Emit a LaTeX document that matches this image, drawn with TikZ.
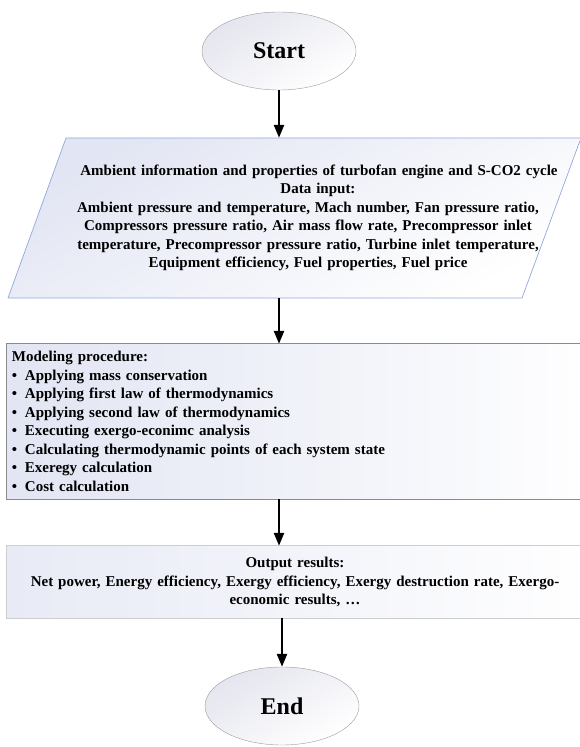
\documentclass[tikz,border=0pt]{standalone}
\usepackage{fontspec}
\setmainfont{Liberation Serif}
\usetikzlibrary{arrows.meta,shapes.geometric,backgrounds}
\definecolor{ovalfill}{HTML}{E4E5EE}
\definecolor{ovaledge}{HTML}{9C9C9C}
\definecolor{boxfill}{HTML}{E2E5F3}
\definecolor{inedge}{HTML}{8EA9DB}
\definecolor{modedge}{HTML}{8A8A8A}
\definecolor{outedge}{HTML}{CDCDCD}
\tikzset{
  oval/.style={ellipse, draw=ovaledge, top color=ovalfill, bottom color=white,
    shading angle=30, minimum width=154pt, minimum height=78pt,
    font=\fontsize{24}{28}\selectfont\bfseries},
  body/.style={font=\fontsize{15}{18.5}\selectfont\bfseries},
  inbox/.style={draw=inedge, line width=0.7pt, left color=boxfill, right color=white, shading angle=30},
  modframe/.style={draw=modedge, line width=1.1pt, left color=boxfill, right color=white},
  outframe/.style={draw=outedge, line width=0.9pt, left color=boxfill!80, right color=white},
  modtext/.style={body, text width=566pt, inner xsep=5pt, minimum height=155pt, align=left},
  outtext/.style={body, text width=566pt, inner xsep=5pt, minimum height=72pt, align=center},
  flow/.style={-{Triangle[length=13pt,width=10pt]}, line width=2.5pt},
}
\newcommand{\bitem}[1]{\makebox[13pt][l]{•}#1}
\begin{document}
\begin{tikzpicture}[x=1pt,y=1pt]
    \useasboundingbox (0,0) rectangle (579,747);
    % start and stop ovals
    \node [oval] (start) at (279,696) {Start};
    \node [oval] (finish) at (282,41) {End};
    % data input
    \path [inbox] (66,609) -- (581,609) -- (522,449) -- (8,449) -- cycle;
    \node [body, align=center, text width=500pt, minimum height=160pt] (datain) at (308,529)
      {\hspace*{22pt}Ambient information and properties of turbofan engine and S-CO2 cycle\\
       \hspace*{20pt}Data input:\\
       Ambient pressure and temperature, Mach number, Fan pressure ratio,\\
       Compressors pressure ratio, Air mass flow rate, Precompressor inlet\\
       temperature, Precompressor pressure ratio, Turbine inlet temperature,\\
       Equipment efficiency, Fuel properties, Fuel price};
    % modeling
    \node [modtext] (model) at (295,325.5)
      {Modeling procedure:\\
       \bitem{Applying mass conservation}\\
       \bitem{Applying first law of thermodynamics}\\
       \bitem{Applying second law of thermodynamics}\\
       \bitem{Executing exergo-econimc analysis}\\
       \bitem{Calculating thermodynamic points of each system state}\\
       \bitem{Exeregy calculation}\\
       \bitem{Cost calculation}};
    % results
    \node [outtext] (results) at (295,165)
      {Output results:\\
       Net power, Energy efficiency, Exergy efficiency, Exergy destruction rate, Exergo-\\
       economic results, …};
    % box frames, open to the right edge
    \begin{scope}[on background layer]
      \path [modframe] (model.north west) rectangle ([xshift=20pt]model.south east);
      \path [outframe] (results.north west) rectangle ([xshift=20pt]results.south east);
    \end{scope}
    % arrows
    \draw [flow] (start) -- (start |- datain.north);
    \draw [flow] (start |- datain.south) -- (start |- model.north);
    \draw [flow] (start |- model.south) -- (start |- results.north);
    \draw [flow] (finish |- results.south) -- (finish);
\end{tikzpicture}
\end{document}
